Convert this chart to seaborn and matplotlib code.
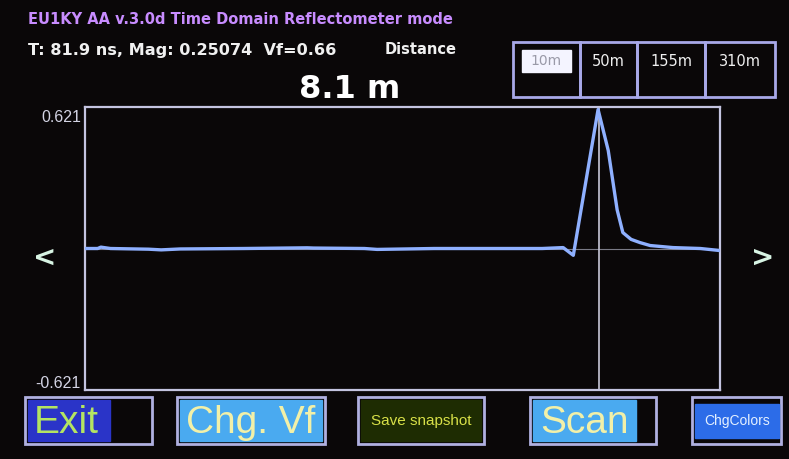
import matplotlib
matplotlib.use("Agg")
import matplotlib.pyplot as plt
from matplotlib.patches import Rectangle
import seaborn as sns
import pandas as pd

# ---- data ----
distance_m = [0.0, 0.2, 0.25, 0.4, 1.0, 1.2, 1.5, 2.5, 3.5, 3.6, 4.4, 4.6, 5.5, 6.5,
              7.2, 7.53, 7.69, 8.08, 8.24, 8.38, 8.47, 8.60, 8.74, 8.90, 9.26, 9.69, 10.0]
reflection = [0.0, 0.0, 0.006, 0.0, -0.003, -0.006, -0.002, 0.0, 0.003, 0.002, 0.0, -0.004,
              0.0, 0.0, 0.0, 0.004, -0.03, 0.61, 0.43, 0.17, 0.07, 0.04, 0.026, 0.013,
              0.004, 0.0, -0.009]
y_limit = 0.621
cursor_m = 8.1
range_buttons = ["10m", "50m", "155m", "310m"]
title_text = "EU1KY AA v.3.0d Time Domain Reflectometer mode"
info_text = "T: 81.9 ns, Mag: 0.25074  Vf=0.66"
distance_label = "Distance"
distance_value = "8.1 m"

W, H = 789, 459
sns.set_theme(style="dark")
plt.rcParams['font.family'] = ['DejaVu Sans']
ARIAL = ['Liberation Sans', 'DejaVu Sans']

BG = "#0a0708"
fig = plt.figure(figsize=(W / 100, H / 100), dpi=100, facecolor=BG)

def fx(x):
    return x / W

def fy(y):
    return 1 - y / H

def rect(x0, y0, x1, y1, **kw):
    fig.patches.append(Rectangle((fx(x0), fy(y1)), fx(x1) - fx(x0), fy(y0) - fy(y1),
                                 transform=fig.transFigure, figure=fig, **kw))

# ---- plot area ----
ax = fig.add_axes([fx(85), fy(390), fx(720) - fx(85), fy(107) - fy(390)])
ax.set_facecolor(BG)
df = pd.DataFrame({"distance": distance_m, "refl": reflection})
ax.axhline(0, color="#7a7a86", lw=0.8, zorder=1)
ax.axvline(cursor_m, color="#c8c8d8", lw=1.2, zorder=1)
sns.lineplot(data=df, x="distance", y="refl", ax=ax, color="#8fb0ff", lw=2.4, zorder=3)
ax.set_xlim(0, 10)
ax.set_ylim(-y_limit, y_limit)
ax.set_xticks([])
ax.set_yticks([])
ax.set_xlabel("")
ax.set_ylabel("")
for s in ax.spines.values():
    s.set_visible(True)
    s.set_color("#c4c4e0")
    s.set_linewidth(1.6)

fig.text(fx(81), fy(118), f"{y_limit:.3f}", color="#d4d4e4", fontsize=11.5, ha="right",
         va="center", family=ARIAL)
fig.text(fx(81), fy(383), f"{-y_limit:.3f}", color="#d4d4e4", fontsize=11.5, ha="right",
         va="center", family=ARIAL)

# ---- header texts ----
fig.text(fx(28), fy(20), title_text, color="#c88cff", fontsize=10.5, fontweight="bold",
         ha="left", va="center")
fig.text(fx(28), fy(50), info_text, color="#f0f0f0", fontsize=11.6, fontweight="bold",
         ha="left", va="center")
fig.text(fx(385), fy(50), distance_label, color="#f0f0f0", fontsize=10.5, fontweight="bold",
         ha="left", va="center")
fig.text(fx(350), fy(90), distance_value, color="#ffffff", fontsize=23, fontweight="bold",
         ha="center", va="center")

# ---- range buttons ----
edges = [513, 580, 637, 705, 775]
for i, lab in enumerate(range_buttons):
    x0, x1 = edges[i], edges[i + 1]
    rect(x0, 42, x1, 97, fill=False, edgecolor="#a8a8e8", lw=2)
    cx = (x0 + x1) / 2
    if i == 0:
        rect(x0 + 9, 50, x1 - 9, 72, color="#f4f4ff")
        fig.text(fx(cx), fy(61), lab, color="#9a9aa8", fontsize=10, ha="center", va="center")
    else:
        fig.text(fx(cx), fy(61), lab, color="#f0f0f0", fontsize=10.5, ha="center", va="center")

# ---- arrows ----
fig.text(fx(45), fy(258), "<", color="#d8f4e4", fontsize=20, fontweight="bold", ha="center", va="center")
fig.text(fx(763), fy(258), ">", color="#d8f4e4", fontsize=20, fontweight="bold", ha="center", va="center")

# ---- bottom buttons ----
OUT = "#b0b0e0"
BIG = dict(fontsize=28, family=ARIAL, va="center")
# Exit
rect(25, 397, 152, 444, fill=False, edgecolor=OUT, lw=2)
rect(28, 400, 110, 441, color="#2a34c8")
fig.text(fx(34), fy(423), "Exit", color="#b4e462", ha="left", **BIG)
# Chg. Vf
rect(177, 397, 325, 444, fill=False, edgecolor=OUT, lw=2)
rect(180, 400, 322, 441, color="#4aaaf0")
fig.text(fx(251), fy(423), "Chg. Vf", color="#f2f0a8", ha="center", **BIG)
# Save snapshot
rect(358, 397, 484, 444, fill=False, edgecolor=OUT, lw=2)
rect(361, 400, 481, 441, color="#1e2c02")
fig.text(fx(421), fy(421), "Save snapshot", color="#d8e048", fontsize=11, ha="center",
         va="center", family=ARIAL)
# Scan
rect(530, 397, 656, 444, fill=False, edgecolor=OUT, lw=2)
rect(533, 400, 636, 441, color="#4aaaf0")
fig.text(fx(584), fy(423), "Scan", color="#f2f0a8", ha="center", **BIG)
# ChgColors
rect(692, 397, 781, 444, fill=False, edgecolor=OUT, lw=2)
rect(695, 404, 779, 438, color="#2c6ce8")
fig.text(fx(737), fy(421), "ChgColors", color="#e4f0ff", fontsize=10, ha="center",
         va="center", family=ARIAL)

fig.savefig("out.png", dpi=100, facecolor=BG)
